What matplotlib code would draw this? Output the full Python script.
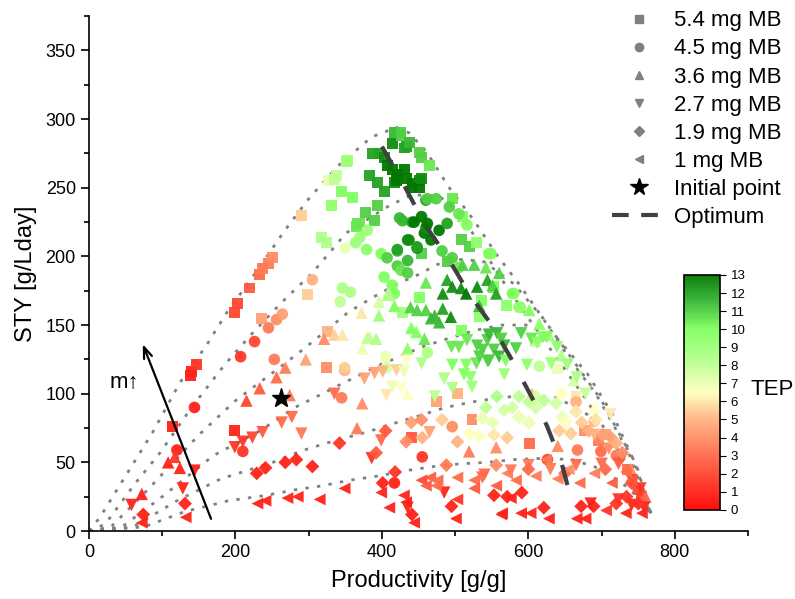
import numpy as np
import matplotlib.pyplot as plt
from matplotlib.colors import LinearSegmentedColormap
from matplotlib.lines import Line2D

plt.rcParams["font.family"] = ["Liberation Sans", "DejaVu Sans"]

# (productivity [g/g], STY [g/Lday], TEP)
pts_54 = [(114,76,1),(138,113,1),(140,116,1),(147,121,1.5),(199,73,1),(199,159,2),(203,166,2),(219,177,2.5),
          (233,187,3),(237,191,3.5),(245,195,3.5),(251,199,4),(236,155,4.5),(290,230,5.5),(298,172,5.5),(324,119,4),
          (326,145,5),(317,214,8.5),(324,210,8.5),(331,237,9.5),(327,255,7),(335,256,8),(338,259,8),(345,247,10),
          (351,269,9),(353,270,9),(360,243,10),(365,222,10.5),(367,224,10.5),(369,224,10.5),(378,232,11),(390,226,11),
          (394,237,11),(383,259,12),(387,275,12),(394,254,12),(396,275,12),(403,272,12.5),(403,247,12),(407,266,13),
          (414,263,13),(414,282,12.5),(417,290,11.5),(417,254,12.5),(420,255,13),(421,260,13),(426,290,11),(426,288,11),
          (431,263,13),(431,279,12),(433,257,13),(433,280,12),(437,283,11.5),(441,253,13),(441,250,13),(451,255,12.5),
          (451,250,13),(451,276,11),(454,272,11),(454,257,12.5),(465,266,10.5),(454,202,11),(489,196,11),(496,242,10.5),
          (508,212,11),(510,229,10),(519,207,11),(529,210,9.5),(451,170,10),(428,159,9),(508,146,10),(533,156,9.5),
          (536,168,10),(552,177,10.5),(553,178,10),(570,164,9.5),(503,100,5),(474,94,4.5),(523,81,4),(440,68,2.5),
          (601,64,3),(676,73,4),(696,66,3.5),(610,138,8),(640,118,7),(665,98,6),(705,70,4.5),(735,45,3),(755,25,2)]

pts_45 = [(120,59,1),(144,90,1),(207,127,1.5),(210,58,1.5),(226,138,2),(245,148,3.5),(253,125,3.5),(256,154,4),
          (264,158,4.5),(305,183,5),(345,97,3.5),(349,117,5),(349,119,5.5),(350,206,7),(346,177,8.5),(357,174,8.5),
          (343,167,8),(364,210,9),(370,214,9),(380,219,9),(379,205,9.5),(399,202,10),(405,127,7),(406,119,7.5),
          (407,199,11),(403,185,10),(414,179,10),(417,173,10),(421,193,11),(421,204,11.5),(421,205,12),(424,228,11.5),
          (426,190,10.5),(428,226,11.5),(435,212,12.5),(435,197,11.5),(435,188,11),(437,212,12.5),(441,225,12),
          (444,225,13),(448,206,12.5),(448,207,12),(454,229,13),(458,217,13),(460,241,12),(460,221,12.5),(462,224,13),
          (462,242,11),(462,130,8.5),(467,212,13),(474,242,11),(478,219,13),(482,204,11),(489,224,12),(492,236,11),
          (496,199,11),(505,231,10.5),(505,192,10.5),(516,223,10),(546,202,10),(549,202,10),(578,173,10),(580,173,10),
          (587,163,9.5),(589,163,9.5),(455,54,1.5),(417,35,1),(496,76,4),(626,52,2),(665,94,5),(667,59,3.5),
          (699,58,3),(615,120,8),(645,100,6.5),(690,80,5),(720,55,3.5),(750,30,2)]

pts_36 = [(72,27,1),(108,50,1),(117,54,1.5),(124,46,1),(215,95,2),(233,104,2.5),(256,112,3),(268,119,3.5),
          (274,99,3.5),(296,125,4.5),(321,140,4),(335,143,5.5),(346,143,6),(366,75,3.5),(372,159,6),(373,93,4),
          (373,133,7),(380,141,8),(383,141,8),(392,140,8.5),(396,167,7.5),(396,157,9),(407,172,8),(410,172,8.5),
          (417,164,10),(435,133,9.5),(435,100,6.5),(439,163,11),(440,148,10),(447,145,10),(448,161,11),(458,140,10.5),
          (460,161,11),(460,181,10.5),(467,155,11.5),(472,157,11.5),(478,152,11.5),(483,162,12),(483,173,12.5),
          (489,183,12),(494,156,12.5),(496,178,12.5),(508,177,12.5),(510,194,11),(515,173,13),(519,58,3.5),
          (526,194,11),(530,178,12.5),(533,164,11.5),(542,192,10.5),(544,183,12),(551,179,11),(556,173,12),
          (556,61,4),(560,188,11),(601,161,10),(615,151,9.5),(628,143,9),(645,128,8.5),(662,110,7.5),(690,90,6.5),
          (715,65,5),(740,45,4),(760,25,3),(605,100,5),(640,62,4)]

pts_27 = [(58,19,1),(128,31,1),(144,44,1),(199,61,1.5),(210,65,1.5),(223,68,2),(237,72,2.5),(263,79,3),
          (277,83,3),(290,71,3.5),(335,100,3),(376,111,4.5),(386,53,1.5),(390,115,4.5),(399,66,3),(401,116,5),
          (406,99,6),(414,105,7),(420,117,5.5),(426,104,6.5),(430,116,7),(433,124,6.5),(435,17,1),(454,122,8.5),
          (465,72,4.5),(472,98,8),(485,111,8.5),(485,28,1),(495,134,10.5),(496,104,8.5),(496,121,10),(505,134,10.5),
          (512,114,10),(515,121,10),(516,139,10.5),(521,112,9.5),(523,105,9),(529,122,10.5),(530,135,11),
          (533,127,11),(537,132,11),(537,39,3),(540,41,3),(544,139,11),(544,124,11),(546,143,11.5),(546,124,11),
          (553,132,11),(557,144,11.5),(560,127,11.5),(563,140,11),(567,135,11.5),(567,114,9),(569,124,10),
          (576,44,3.5),(583,133,11),(590,144,11),(598,121,9.5),(604,140,10.5),(612,137,9.5),(619,141,10),
          (625,141,10),(631,122,9),(639,134,9.5),(653,121,9),(666,112,8.5),(678,100,8),(600,48,3.5),(630,45,3.5),
          (665,48,3),(685,20,1),(700,49,3),(710,60,4),(723,49,2.5),(723,23,1.5),(728,53,2.5),(741,37,2),(741,19,1),
          (753,31,1.5),(758,17,1),(690,70,5),(712,85,6)]

pts_19 = [(74,12,1),(131,20,1),(229,42,1),(241,46,1),(268,50,1),(283,52,1),(305,47,1),(342,64,1.5),(392,57,2.5),
          (401,35,1),(405,73,2.5),(418,43,1.5),(433,65,4),(440,79,4.5),(441,12,1),(454,81,4),(455,68,5),(482,81,5.5),
          (488,48,3.5),(495,18,1),(503,65,5),(520,71,6.5),(533,69,6.5),(537,82,7),(542,90,8),(551,79,7),(553,70,6),
          (553,26,1),(556,48,4),(557,98,8.5),(567,88,7.5),(571,68,5.5),(571,25,1),(578,90,7.5),(587,83,7),(587,98,8),
          (591,28,1),(601,79,7),(601,94,8),(610,90,7.5),(610,98,7.5),(621,95,8),(621,17,1),(638,93,7.5),(642,73,5.5),
          (646,83,7),(651,79,6.5),(658,71,5.5),(665,87,6),(672,18,1),(673,79,5.5),(683,73,5),(689,18,1),(692,81,6),
          (701,70,4.5),(713,68,4.5),(720,64,5),(720,20,1.5),(728,57,4),(734,25,1.5),(741,35,2),(750,20,1.5),
          (600,45,3),(650,42,3),(705,45,3)]

pts_10 = [(72,6,1),(132,10,1),(230,20,1),(241,22,1),(271,24,1),(285,25,1),(315,23,1),(349,31,1),(399,28,1),
          (410,17,1),(430,26,1),(433,21,1),(444,6,1),(454,37,2),(460,33,2.5),(466,39,2.5),(474,33,3),(476,37,3),
          (501,9,1),(503,39,3),(503,23,1.5),(526,37,3),(526,31,2.5),(556,33,2.5),(563,12,1),(564,13,1),(571,42,3.5),
          (576,24,1),(583,37,3),(590,13,1),(603,13,1),(610,40,3.5),(624,52,3.5),(628,9,1),(640,38,3.5),(655,45,4),
          (666,9,1),(670,35,3),(678,9,1),(690,42,3.5),(706,15,1.5),(714,35,2.5),(733,43,3),(733,13,1),(741,37,2.5),
          (744,20,1.5),(755,13,1)]

# dotted envelope curves, one per MB mass
env_54 = [(0,0),(15,10),(45,36),(87,72),(124,108),(160,135),(188,159),(230,190),(266,218),(300,242),(340,266),
          (386,287),(420,294),(437,290),(461,276),(492,250),(526,226),(557,201),(587,180),(621,154),(658,124),
          (692,100),(728,66),(747,49),(767,13)]
env_45 = [(0,0),(22,5),(65,36),(97,57),(140,90),(185,121),(223,144),(264,167),(305,188),(351,217),(407,236),
          (440,245),(478,244),(505,232),(530,212),(560,186),(600,155),(640,125),(680,95),(715,65),(745,38),(767,13)]
env_36 = [(0,0),(30,3),(80,30),(150,70),(200,95),(265,121),(294,133),(324,146),(353,159),(387,170),(421,180),
          (455,188),(474,194),(510,198),(540,196),(580,180),(620,155),(660,125),(700,95),(735,60),(768,12)]
env_27 = [(0,0),(45,3),(100,25),(170,55),(230,72),(265,84),(281,90),(315,99),(333,104),(367,113),(401,122),
          (420,126),(454,134),(489,140),(526,146),(563,150),(600,150),(640,140),(680,115),(715,85),(745,50),(768,12)]
env_19 = [(0,0),(60,3),(120,22),(180,38),(251,50),(288,58),(324,64),(379,72),(414,78),(451,84),(487,90),
          (523,94),(560,97),(600,99),(640,97),(680,85),(715,65),(745,40),(768,12)]
env_10 = [(0,0),(75,3),(130,14),(190,22),(242,26),(281,30),(319,33),(356,37),(394,40),(433,44),(471,47),
          (508,49),(544,50),(580,52),(620,53),(660,52),(700,45),(735,32),(758,20),(770,10)]

opt_x = [400, 430, 460, 490, 520, 550, 575, 600, 625, 645, 660]
opt_y = [280, 252, 222, 199, 172, 150, 127, 102, 77, 50, 20]

init_x, init_y = 262, 97

series = [(pts_54, "s", "5.4 mg MB"), (pts_45, "o", "4.5 mg MB"), (pts_36, "^", "3.6 mg MB"),
          (pts_27, "v", "2.7 mg MB"), (pts_19, "D", "1.9 mg MB"), (pts_10, "<", "1 mg MB")]
envelopes = [env_54, env_45, env_36, env_27, env_19, env_10]

cmap = LinearSegmentedColormap.from_list("tep", [(0, "#ff0000"), (0.23, "#ff6a4a"), (0.38, "#ffb080"),
                                                  (0.5, "#ffffc0"), (0.63, "#b8ff90"), (0.77, "#80ff60"),
                                                  (0.9, "#30b030"), (1, "#007800")])

fig = plt.figure(figsize=(7.95, 5.99), dpi=100)
ax = fig.add_axes([0.112, 0.1135, 0.829, 0.8595])

for env in envelopes:
    e = np.array(env)
    ax.plot(e[:, 0], e[:, 1], color="#808080", lw=2, dashes=(1.2, 3), zorder=1)
ax.plot([0], [0], "o", color="#808080", ms=4, zorder=1)

sizes = {"s": 62, "o": 70, "^": 80, "v": 80, "D": 50, "<": 72}
sc = None
for pts, mk, lab in series:
    p = np.array(pts, dtype=float)
    sc = ax.scatter(p[:, 0], p[:, 1], c=p[:, 2], cmap=cmap, vmin=0, vmax=13, marker=mk,
                    s=sizes[mk], linewidths=0, alpha=0.95, zorder=2)

ax.plot(opt_x, opt_y, color="#404040", lw=3, dashes=(5, 6), zorder=4)
ax.plot(init_x, init_y, "*", color="black", ms=14, zorder=5)

ax.annotate("", xy=(72, 138), xytext=(168, 7),
            arrowprops=dict(arrowstyle="->,head_length=0.8,head_width=0.3", color="black", lw=1.6))
ax.text(48, 108, "m\u2191", fontsize=16, ha="center", va="center")

ax.set_xlim(0, 900)
ax.set_ylim(0, 375)
ax.set_xticks([0, 200, 400, 600, 800])
ax.set_xticks(np.arange(100, 901, 200), minor=True)
ax.set_yticks(np.arange(0, 351, 50))
ax.set_yticks(np.arange(25, 376, 50), minor=True)
ax.spines["top"].set_visible(False)
ax.spines["right"].set_visible(False)
ax.tick_params(which="major", direction="out", length=6, width=1.2, labelsize=13)
ax.tick_params(which="minor", direction="out", length=3.5, width=1.2)
for s in ["left", "bottom"]:
    ax.spines[s].set_linewidth(1.2)
ax.set_xlabel("Productivity [g/g]", fontsize=17, labelpad=6)
ax.set_ylabel("STY [g/Lday]", fontsize=17, labelpad=6)

handles = [Line2D([], [], marker=mk, color="#808080", ls="none", ms=6 if mk != "D" else 5) for _, mk, _ in series]
labels = [lab for _, _, lab in series]
handles.append(Line2D([], [], marker="*", color="black", ls="none", ms=13))
labels.append("Initial point")
handles.append(Line2D([], [], color="#404040", lw=3, dashes=(4, 3)))
labels.append("Optimum")
fig.legend(handles, labels, loc="upper right", bbox_to_anchor=(1.0, 1.005), frameon=False, fontsize=16,
           labelspacing=0.32, handletextpad=0.4, handlelength=2.4, borderaxespad=0.2)

cax = fig.add_axes([0.861, 0.149, 0.045, 0.392])
cb = fig.colorbar(sc, cax=cax, ticks=range(0, 14))
cb.ax.tick_params(labelsize=9.5, length=4)
cb.outline.set_linewidth(1.2)
cb.ax.text(1.0, 0.5, "TEP", transform=fig.transFigure, fontsize=16, va="center", ha="right")
cb.ax.texts[-1].set_position((0.998, 0.349))

fig.savefig("out.png", dpi=100)
